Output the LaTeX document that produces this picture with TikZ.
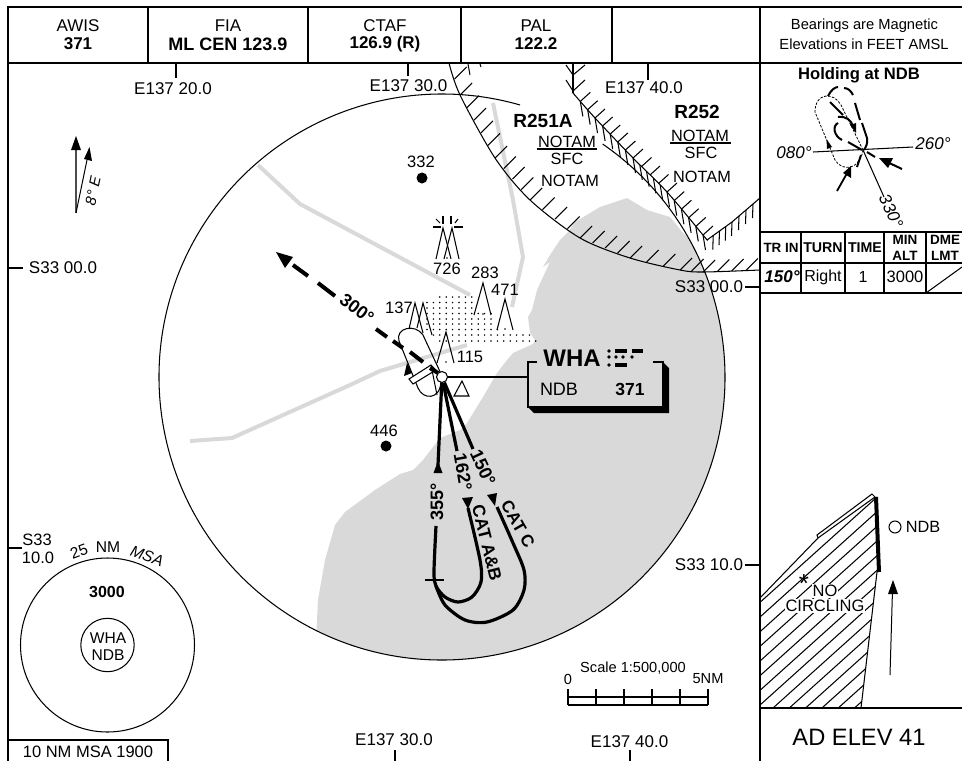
\documentclass[tikz,border=0pt]{standalone}
\usepackage{fontspec}
\setmainfont{Liberation Sans}
\usetikzlibrary{calc}
\definecolor{land}{HTML}{D9D9D9}
\tikzset{
  txt/.style={font=\fontsize{#1}{#1}\selectfont,inner sep=0pt,text=black},
  txt/.default=17,
  btxt/.style={font=\fontsize{#1}{#1}\selectfont\bfseries,inner sep=0pt,text=black},
  btxt/.default=17,
  itxt/.style={font=\fontsize{#1}{#1}\selectfont\itshape,inner sep=0pt,text=black},
  itxt/.default=17,
  frame/.style={line width=1.2pt},
  thinline/.style={line width=1.05pt},
  road/.style={draw=land,line width=4pt},
  track/.style={line width=3.2pt},
  dashtrack/.style={line width=4pt},
}
\newcommand{\tickrun}[3]{%
  \foreach \ax/\ay/\bx/\by/\n in {#1}{%
    \foreach \i in {1,...,\n}{%
      \draw[line width=1.05pt] ({\ax+(\bx-\ax)*\i/\n},{\ay+(\by-\ay)*\i/\n}) -- ++(#2,#3);%
    }%
  }%
}
\begin{document}
\begin{tikzpicture}[x=1pt,y=-1pt]
\useasboundingbox (0,0) rectangle (962,761);
\coordinate (c) at (442,377);
% land
\begin{scope}
\clip (c) circle (283pt);
\fill[land] (627,198) -- (600,207) -- (575,222) -- (568,232) -- (560,240) -- (550,255) -- (543,267) -- (550,262) -- (537,290) -- (532,310) -- (528,317) -- (530,333) -- (535,340) -- (533,344) -- (513,353) -- (507,360) -- (497,373) -- (483,397) -- (467,423) -- (460,430) -- (440,438) -- (423,460) -- (413,470) -- (400,474) -- (375,490) -- (345,512) -- (335,525) -- (325,560) -- (318,600) -- (316,640) -- (316,700) -- (800,700) -- (800,260) -- (700,247) -- (683,233) -- (670,217) -- (647,210) -- cycle;
\end{scope}
% roads
\draw[road] (258,165) -- (300,204) -- (470,295);
\draw[road] (493,103) -- (513,200) -- (523,257) -- (512,307);
\draw[road] (190,441) -- (232,438) -- (350,385) -- (380,371) -- (467,345);
% dot field
\foreach \yy/\ka/\kb in {297/2/7,302.5/0/7,308/0/7,313.5/0/10,319/0/10,324/0/10,329.5/0/11,335/1/16,341/2/17}{
  \foreach \k in {\ka,...,\kb}{\fill ({427+6.4*\k},\yy) circle[radius=0.85pt];}
}
% frame
\draw[frame] (8,761) -- (8,7) -- (962,7);
\draw[frame] (8,63) -- (962,63);
\draw[frame] (760,7) -- (760,761);
\foreach \xx in {148,308,461,612}{\draw[frame] (\xx,7) -- (\xx,63);}
\draw[frame] (8,740) -- (168,740) -- (168,761);
\node[txt] (h1a) at (78,26) {AWIS};
\node[btxt] (h1b) at (78,44) {371};
\node[txt] (h2a) at (228,26) {FIA};
\node[btxt=18] (h2b) at (228,44) {ML CEN 123.9};
\node[txt] (h3a) at (385,26) {CTAF};
\node[btxt] (h3b) at (385,44) {126.9 (R)};
\node[txt] (h4a) at (536,26) {PAL};
\node[btxt] (h4b) at (536,44) {122.2};
\node[txt=14.7] (h5a) at (864.5,26) {Bearings are Magnetic};
\node[txt=14.7] (h5b) at (864,44) {Elevations in FEET AMSL};
% graticule
\draw[frame] (176,63) -- (176,78);
\node[txt] (g1) at (173,89) {E137 20.0};
\draw[frame] (408,63) -- (408,76);
\node[txt] (g2) at (408.5,86) {E137 30.0};
\draw[frame] (648,63) -- (648,80);
\node[txt] (g3) at (644,88) {E137 40.0};
\draw[frame] (395,750) -- (395,761);
\node[txt] (g4) at (394,740) {E137 30.0};
\draw[frame] (630,750) -- (630,761);
\node[txt] (g5) at (629.5,742) {E137 40.0};
\draw[frame] (8,268) -- (23,268);
\node[txt] (g6) at (63,268) {S33 00.0};
\draw[frame] (745,287) -- (760,287);
\node[txt] (g7) at (709,287) {S33 00.0};
\draw[frame] (745,565) -- (760,565);
\node[txt] (g8) at (709,565) {S33 10.0};
\draw[frame] (8,548) -- (22,548);
\node[txt=16.5] (g9) at (37,540) {S33};
\node[txt=16.5] (g10) at (38,558) {10.0};
\node[txt=16.5] (msabox) at (88,752) {10 NM MSA 1900};
% main circle
\draw[thinline] ($(c)+(55.4:283pt)$) arc[start angle=55.4,end angle=-286,radius=283pt];
% restricted areas
\begin{scope}
\clip (8,63) rectangle (760,761);
\draw[thinline] plot[smooth] coordinates {(449,63) (460,95) (495,158) (530,200) (580,238) (630,258) (680,270) (703,272) (760,270)};
\tickrun{449/63/460/95/2,460/95/495/158/5,495/158/530/200/4,530/200/580/238/4,580/238/630/258/4,630/258/680/270/3,680/270/703/272/2,703/272/760/270/4}{12}{-12}
\draw[thinline] (573,63) -- (573,93);
\draw[thinline] (566,65) -- (573,75) -- (585,65);
\draw[thinline] (566,80) -- (573,91) -- (585,80);
\draw[thinline] plot[smooth] coordinates {(573,93) (595,118) (633,158) (667,192) (703,235) (707,240)};
\tickrun{573/93/595/118/3,595/118/633/158/5,633/158/667/192/4,667/192/703/235/5}{10}{-9}
\tickrun{573/93/595/118/3,595/118/633/158/5,633/158/667/192/5,667/192/703/235/5}{2.5}{15}
\draw[thinline] (707,240) -- (732,222) -- (760,198);
\tickrun{707/240/732/222/4,732/222/760/198/4}{-0.5}{14}
\draw[line width=1pt] (468,64) -- (470,75);
\draw[line width=1pt] (480,64) -- (481,67);
\end{scope}
\node[btxt=19] (r251) at (543,121) {R251A};
\node[txt=16.3] (r251a) at (567,142) {NOTAM};
\draw[thinline] (537,149) -- (597,149);
\node[txt=16.3] (r251b) at (567,159) {SFC};
\node[txt=16.3] (r251c) at (570,181) {NOTAM};
\node[btxt=19] (r252) at (697,112) {R252};
\node[txt=16.3] (r252a) at (700,136) {NOTAM};
\draw[thinline] (670,143) -- (731,143);
\node[txt=16.3] (r252b) at (701,153) {SFC};
\node[txt=16.3] (r252c) at (702,177) {NOTAM};
% north arrows
\draw[line width=2pt,draw=black!70] (76,213) -- (76,148);
\fill (76,136) -- (81,150) -- (71,150) -- cycle;
\draw[line width=1pt] (76,213) -- (87,160);
\fill (89.5,147) -- (92,161) -- (84,159) -- cycle;
\node[itxt=15,rotate=78] (var) at (93,191) {8° E};
% spot heights
\node[txt=16.5] (s332) at (421,162) {332};
\fill (422,178) circle[radius=5.5pt];
\node[txt=16.5] (s446) at (384,431) {446};
\fill (386,446) circle[radius=5.5pt];
% obstacles
\begin{scope}[thinline]
\draw (436,259) -- (443,228) -- (451,259);
\draw (444,259) -- (452,228) -- (459,259);
\draw (433,227) -- (441,227);
\draw (454,227) -- (463,227);
\draw (443,216) -- (443,224);
\draw (451,216) -- (451,224);
\draw (436,219) -- (440,223);
\draw (458,219) -- (455,223);
\draw (474,315) -- (483,283) -- (491,315);
\draw (497,330) -- (505,299) -- (513,330);
\draw (409,329) -- (415,303) -- (423,333);
\draw (417,328) -- (423,303) -- (432,335);
\draw (437,363) -- (446,332) -- (454,363);
\end{scope}
\fill (447,258) circle[radius=0.8pt];
\fill (483,314) circle[radius=0.8pt];
\fill (505,329) circle[radius=0.8pt];
\fill (446,362) circle[radius=0.8pt];
\node[txt=16.5] (o726) at (447,269) {726};
\node[txt=16.5] (o283) at (485,273) {283};
\node[txt=16.5] (o471) at (505,290) {471};
\node[txt=16.5] (o137) at (399,308) {137};
\node[txt=16.5] (o115) at (470,357) {115};
% NDB holding on map
\draw[thinline] (399,341) .. controls (395,328) and (415,323) .. (423,335) -- (442,376);
\draw[thinline] (399,341) -- (418,388) .. controls (423,400) and (440,400) .. (441,382);
\fill (407,363) -- (412,373) -- (404,376) -- cycle;
\filldraw[thinline,fill=white] (409,379) -- (413,384) -- (436,370) -- (431,365) -- cycle;
\draw[thinline] (431,365) -- (437,395);
% missed approach
\fill (276,252) -- (293,257) -- (285,268) -- cycle;
\draw[dashtrack] (293,265) -- (308,276);
\draw[dashtrack] (318,283) -- (335,296);
\draw[dashtrack] (376,329) -- (387,337);
\draw[dashtrack] (393,341) -- (403,348);
\draw[dashtrack] (410,352) -- (423,362);
\draw[dashtrack] (430,368) -- (438,373);
\node[btxt=18,rotate=-37] (m300) at (357,309) {300°};
% NDB
\node[draw,thinline,fill=white,circle,minimum size=11pt,inner sep=0pt] (ndb) at (442,377) {};
\draw[thinline] (454,396) -- (462,381) -- (469,396) -- cycle;
% approach tracks
\coordinate (t355) at (438,465);
\coordinate (t162) at (457,451);
\coordinate (t150) at (473,449);
\draw[track] (ndb) -- (t355);
\draw[track] (ndb) -- (t162);
\draw[track] (ndb) -- (t150);
\fill (438,461) -- (442.5,473) -- (433.5,473) -- cycle;
\node[btxt=18,rotate=90] (a355) at (437,502) {355°};
\node[btxt=18,rotate=-80] (a162) at (463,472) {162°};
\node[btxt=18,rotate=-65] (a150) at (483,468) {150°};
\fill (468,509) -- (462,498) -- (473,497) -- cycle;
\fill (495,506) -- (487,495) -- (497,493) -- cycle;
\draw[track,line join=round] plot[smooth] coordinates {(436,526) (434,572) (436,586) (445,597) (458,602) (472,597) (481,582) (480,560) (468,508)};
\draw[track,line join=round] plot[smooth] coordinates {(497,507) (513,543) (524,570) (524,590) (513,610) (487,622) (465,620) (445,605) (436,586)};
\draw[line width=1.3pt] (425,580) -- (444,580);
\node[btxt=17.5,rotate=-76] (catab) at (487,543) {CAT A\&B};
\node[btxt=17,rotate=-60] (catc) at (518,524) {CAT C};
% callout box
\coordinate (boxw) at (528,377);
\draw[thinline] (ndb) -- (boxw);
\draw[thinline] (537,362) -- (528,362) -- (528,407) -- (663,407) -- (663,362) -- (653,362);
\fill (663,362) -- (669,368) -- (669,413) -- (534,413) -- (528,407) -- (663,407) -- cycle;
\node[btxt=24] (wha) at (572,358) {WHA};
\foreach \xx in {609,616,623,632}{\fill (\xx,357) circle[radius=1.8pt];}
\fill (609,351) circle[radius=1.8pt];
\fill (609,365) circle[radius=1.8pt];
\draw[line width=3.4pt] (615,351) -- (627,351);
\draw[line width=3.4pt] (632,351) -- (643,351);
\draw[line width=3.4pt] (615,365) -- (627,365);
\node[txt=18] (wndb) at (559,389) {NDB};
\node[btxt=17.5] (w371) at (630,389) {371};
% MSA
\draw[thinline] (107.5,645) circle[radius=87pt];
\draw[thinline] (107.5,645) circle[radius=26.7pt];
\node[btxt=16] (m3000) at (107,592) {3000};
\node[txt=15.6] (mwha) at (108,638) {WHA};
\node[txt=15.6] (mndb) at (108,655) {NDB};
\node[txt=15.6,rotate=20] (m25) at (79,551) {25};
\node[txt=15.6] (mnm) at (108,547) {NM};
\node[itxt=15.6,rotate=-20] (mmsa) at (147,556) {MSA};
% scale
\foreach \xx in {568,596,624,652,680,708}{\draw[thinline] (\xx,689) -- (\xx,705);}
\draw[thinline] (568,697) -- (708,697);
\draw[thinline] (568,705) -- (708,705);
\draw[line width=2pt] (624,705) -- (652,705);
\node[txt=14.6] (sc) at (633,668) {Scale 1:500,000};
\node[txt=14.6] (sc0) at (568,679) {0};
\node[txt=14.6] (sc5) at (708,679) {5NM};
% holding inset
\node[btxt=16.6] (hold) at (859,75) {Holding at NDB};
\coordinate (hp) at (863,150);
\draw[thinline] (813,152) -- (913,147);
\draw[thinline] (hp) -- (884,197);
\node[itxt=17] (h080) at (794,153) {080°};
\node[itxt=17] (h260) at (933,144) {260°};
\node[itxt=17,rotate=-65] (h330) at (891,211) {330°};
\draw[line width=0.8pt,dash pattern=on 2.5pt off 1.5pt] (hp) -- (841,105) .. controls (834,92) and (815,92) .. (815,112) -- (835,160) .. controls (842,172) and (860,170) .. (hp);
\fill (826.5,139) -- (832,147) -- (827,149) -- cycle;
\begin{scope}[line width=2pt]
\draw (828,96) .. controls (831,90) and (835,87) .. (838,87);
\draw (844,88) .. controls (848,88) and (851,91) .. (853,95);
\draw (855,103) -- (860,120);
\draw (862,123) -- (867,138) .. controls (868,143) and (866,147) .. (864,150);
\draw (861,155) -- (857,167);
\draw (830,102) -- (843,115);
\draw (838,117) .. controls (846,116) and (851,120) .. (853,126);
\draw (838,123) .. controls (832,126) and (834,136) .. (842,140);
\draw (848,142) -- (862,150);
\draw (867,152) -- (875,157);
\end{scope}
\fill (856,133) -- (850,125) -- (856,123) -- cycle;
\draw[line width=1.8pt] (837,191) -- (850,168);
\fill (851,166) -- (851,178) -- (843,173) -- cycle;
\draw[line width=2pt] (902,169) -- (885,161);
\fill (879,158) -- (893,158) -- (888,168) -- cycle;
% table
\draw[frame] (760,232) -- (962,232);
\draw[frame] (760,263) -- (962,263);
\draw[frame] (760,293) -- (962,293);
\foreach \xx in {801,845,884,926}{\draw[frame] (\xx,232) -- (\xx,293);}
\draw[thinline] (926,293) -- (962,267);
\node[btxt=13.4] (t1) at (781,248) {TR IN};
\node[btxt=14.2] (t2) at (823,248) {TURN};
\node[btxt=14.2] (t3) at (865,248) {TIME};
\node[btxt=13.5] (t4) at (905,240) {MIN};
\node[btxt=13.5] (t5) at (905,256) {ALT};
\node[btxt=13.5] (t6) at (945,240) {DME};
\node[btxt=13.5] (t7) at (945,256) {LMT};
\node[font=\fontsize{17}{17}\selectfont\bfseries\itshape,inner sep=0pt] (t8) at (782,277) {150°};
\node[txt=16] (t9) at (823,277) {Right};
\node[txt=16] (t10) at (863,277) {1};
\node[txt=16.5] (t11) at (905,277) {3000};
% aerodrome
\begin{scope}
\clip (760,598) -- (818,538) -- (872,494) -- (877,497) -- (877,572) -- (861,708) -- (760,708) -- cycle;
\foreach \k in {-8,...,5}{
  \draw[thinline] ({773+16.3*\k},708) -- ({1023+16.3*\k},483);
}
\end{scope}
\draw[thinline] (760,598) -- (818,538) -- (817,535) -- (872,494) -- (875,497) -- (818,538);
\draw[thinline] (877,572) -- (861,708);
\draw[line width=4pt] (876,497) -- (879,572);
\draw[frame] (760,708) -- (962,708);
\node[txt=26] (star) at (804,584) {*};
\node[txt=16.5,fill=white,inner sep=1pt] (no) at (825,591) {NO};
\node[txt=16.5,fill=white,inner sep=1pt] (circ) at (825,606) {CIRCLING};
\node[draw,thinline,circle,minimum size=12pt,inner sep=0pt] (andb) at (895,527) {};
\node[txt=16.3] (andbt) at (923,527) {NDB};
\draw[line width=1pt] (890,675) -- (892.5,590);
\fill (893,580) -- (898,594) -- (888,594) -- cycle;
\node[txt=23.7] (elev) at (859,737) {AD ELEV 41};
\end{tikzpicture}
\end{document}
